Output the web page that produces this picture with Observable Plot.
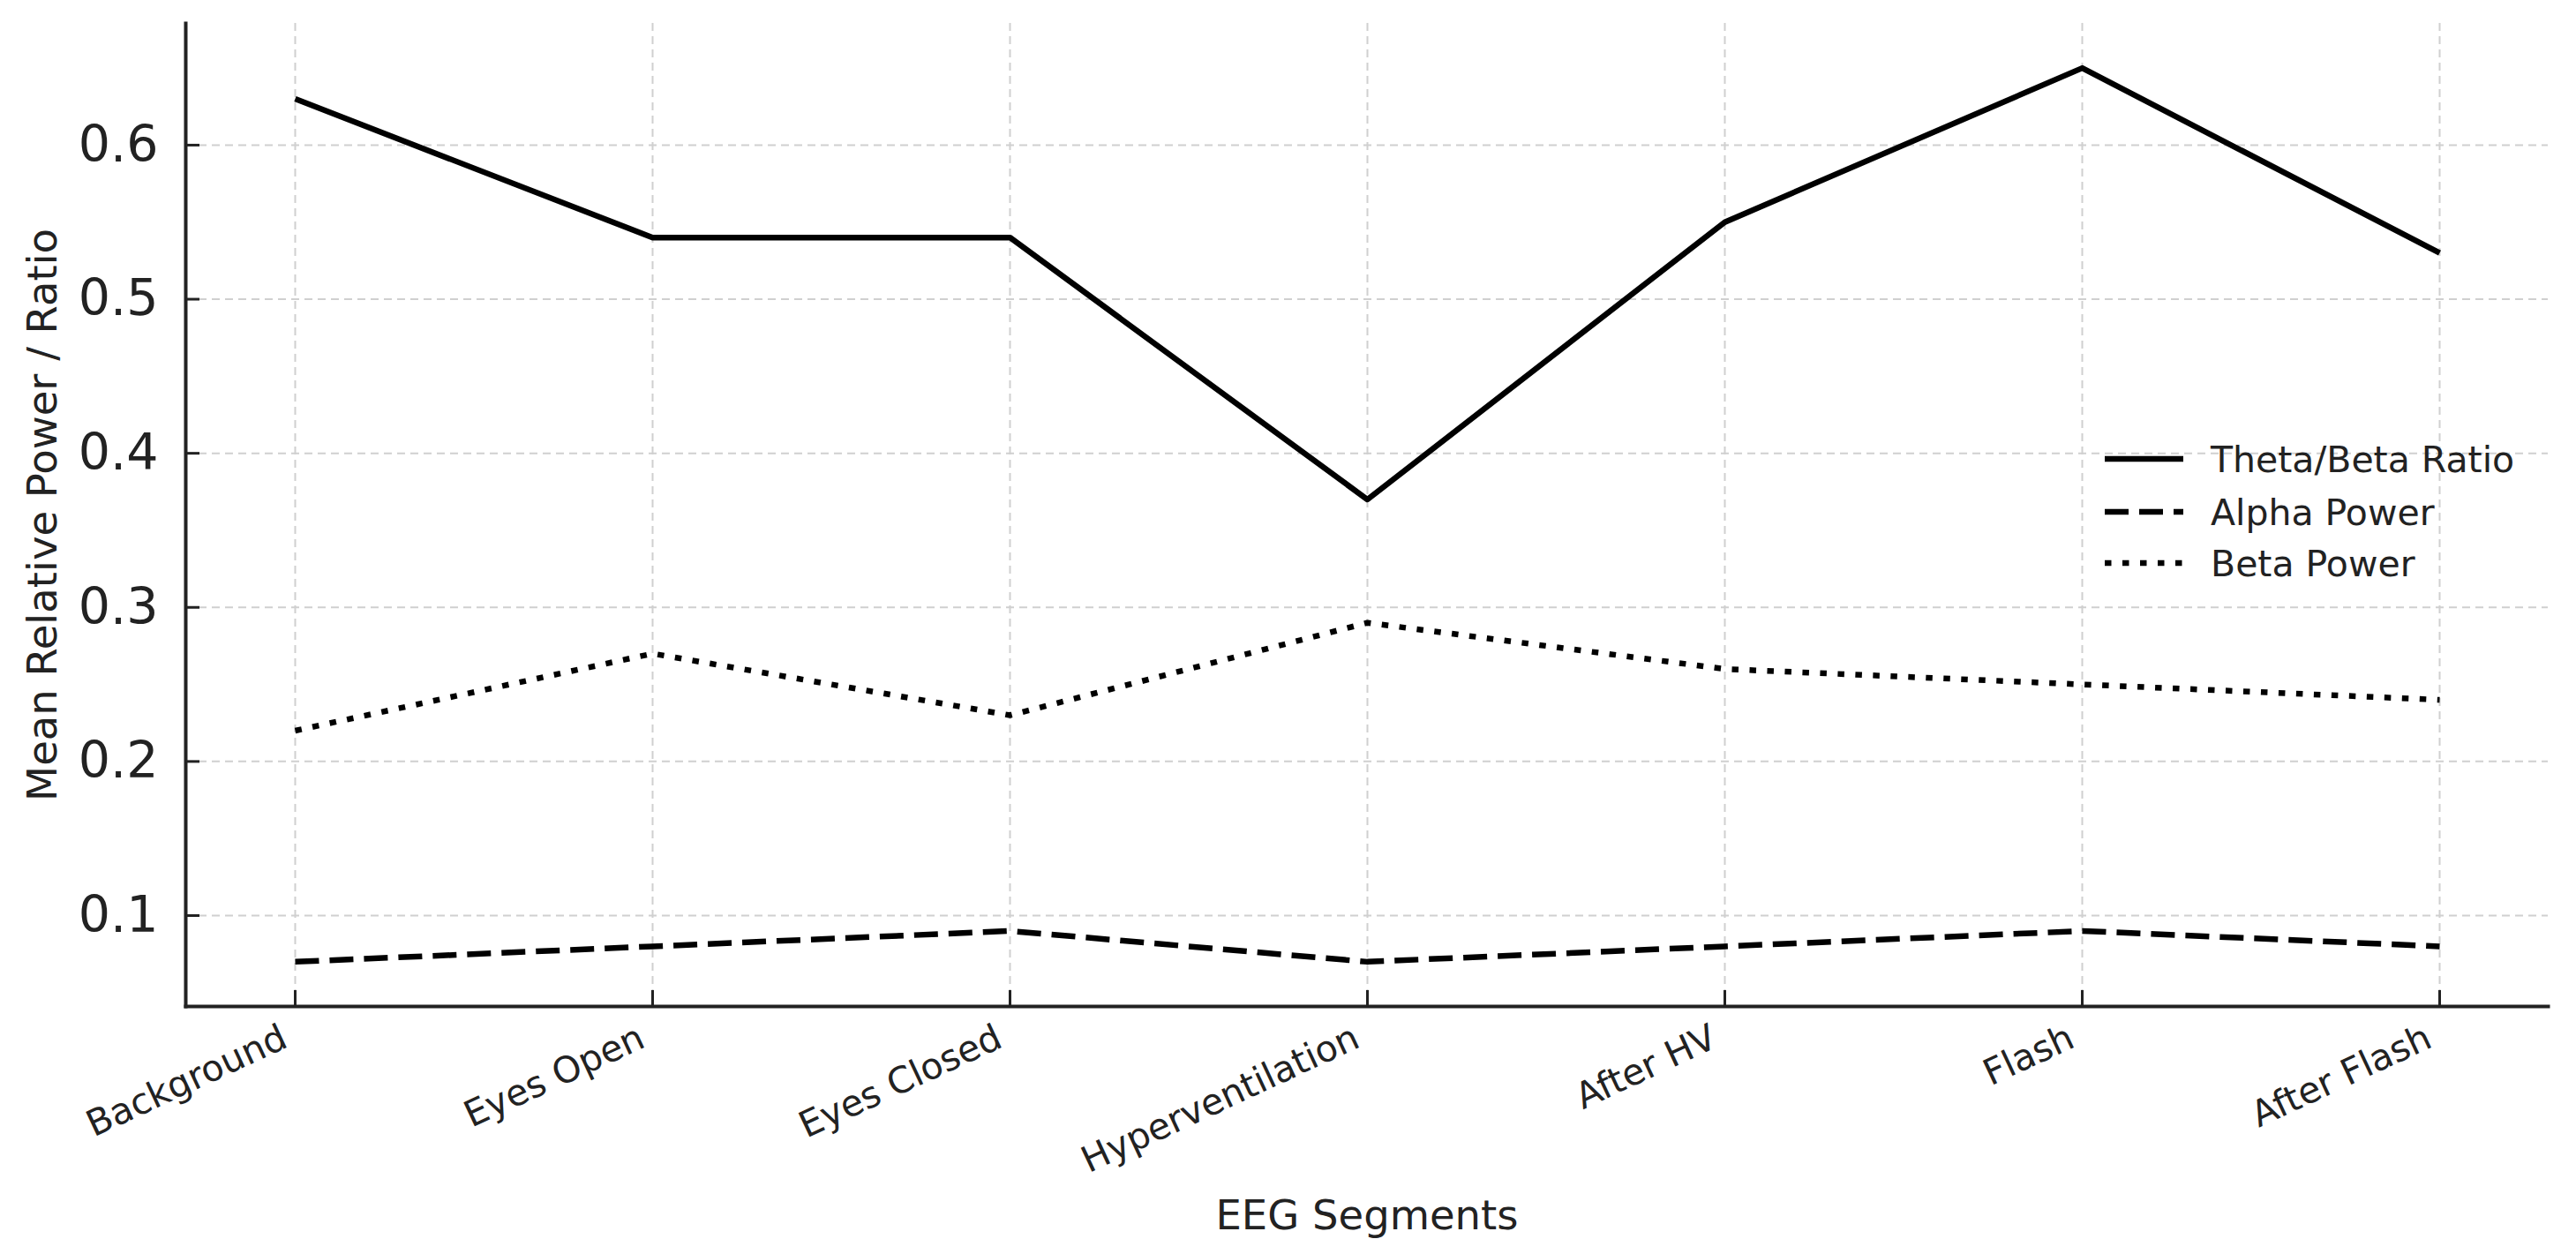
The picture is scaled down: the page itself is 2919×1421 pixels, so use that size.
<!DOCTYPE html>
<html><head><meta charset="utf-8">
<script src="https://cdn.jsdelivr.net/npm/d3@7"></script>
<script src="https://cdn.jsdelivr.net/npm/@observablehq/plot@0.6"></script>
<style>body{margin:0;background:#fff;} svg{display:block;}</style>
</head><body><div id="chart"></div>
<script>
const segments = ["Background","Eyes Open","Eyes Closed","Hyperventilation","After HV","Flash","After Flash"];
const thetaBeta = [0.63,0.54,0.54,0.37,0.55,0.65,0.53];
const alphaPower = [0.07,0.08,0.09,0.07,0.08,0.09,0.08];
const betaPower = [0.22,0.27,0.23,0.29,0.26,0.25,0.24];
const seriesNames = ["Theta/Beta Ratio","Alpha Power","Beta Power"];
const yTicks = [0.1,0.2,0.3,0.4,0.5,0.6];
const xLabel = "EEG Segments";
const yLabel = "Mean Relative Power / Ratio";

const W = 2919, H = 1421, mL = 210, mR = 32, mT = 26, mB = 281;
const dashes = {"Theta/Beta Ratio": null, "Alpha Power": "27,12", "Beta Power": "7.5,12.5"};
const seriesValues = [thetaBeta, alphaPower, betaPower];
const rows = [];
seriesNames.forEach((s, i) => segments.forEach((seg, j) => rows.push({series: s, segment: seg, value: seriesValues[i][j]})));

const allVals = thetaBeta.concat(alphaPower, betaPower);
const lo = d3.min(allVals), hi = d3.max(allVals), pad = (hi - lo) * 0.05;
const ink = "#222";
const gridStyle = {stroke: "#d0d0d0", strokeOpacity: 1, strokeDasharray: "9,6", strokeWidth: 2};

const lineMarks = seriesNames.map(s => Plot.line(rows.filter(r => r.series === s), {
  x: "segment", y: "value", stroke: "#000", strokeWidth: 6.5,
  strokeDasharray: dashes[s], strokeLinecap: "butt", strokeLinejoin: "round"
}));

const plot = Plot.plot({
  width: W, height: H, marginLeft: mL, marginRight: mR, marginTop: mT, marginBottom: mB,
  style: {fontFamily: "DejaVu Sans", background: "#fff", color: ink},
  x: {type: "point", domain: segments, padding: 0.3, label: null},
  y: {domain: [lo - pad, hi + pad], label: null},
  marks: [
    Plot.gridX(segments, gridStyle),
    Plot.gridY(yTicks, gridStyle),
    Plot.frame({anchor: "left", stroke: ink, strokeWidth: 4}),
    Plot.frame({anchor: "bottom", stroke: ink, strokeWidth: 4}),
    Plot.axisY(yTicks, {tickSize: -16, tickPadding: 47, fontSize: 57, tickFormat: d => d.toFixed(1), stroke: ink, strokeWidth: 3, label: null}),
    Plot.axisX(segments, {tickSize: -18, tickFormat: () => "", stroke: ink, strokeWidth: 3, label: null}),
    Plot.text(segments, {x: d => d, text: d => d, frameAnchor: "bottom", rotate: -25, textAnchor: "end", lineAnchor: "middle", dx: -12, dy: 33, fontSize: 41, fill: ink}),
    Plot.text([yLabel], {text: d => d, frameAnchor: "left", rotate: -90, textAnchor: "middle", lineAnchor: "middle", dx: -161, fontSize: 46.5, fill: ink}),
    Plot.text([xLabel], {text: d => d, frameAnchor: "bottom", textAnchor: "middle", lineAnchor: "middle", dy: 238, fontSize: 46.5, fill: ink}),
    ...lineMarks
  ]
});

// legend inside plot area
const svg = d3.select(plot);
const lg = svg.append("g").attr("font-family", "DejaVu Sans").attr("font-size", 41).attr("fill", ink).attr("text-anchor", "start");
const legendY = [520, 580, 638];
seriesNames.forEach((s, i) => {
  lg.append("line").attr("x1", 2385).attr("x2", 2474).attr("y1", legendY[i]).attr("y2", legendY[i])
    .attr("stroke", "#000").attr("stroke-width", 6.5).attr("stroke-dasharray", dashes[s]);
  lg.append("text").attr("x", 2505).attr("y", legendY[i]).attr("dy", "0.36em").attr("text-anchor", "start").text(s);
});
document.getElementById("chart").appendChild(plot);
</script>
</body></html>
